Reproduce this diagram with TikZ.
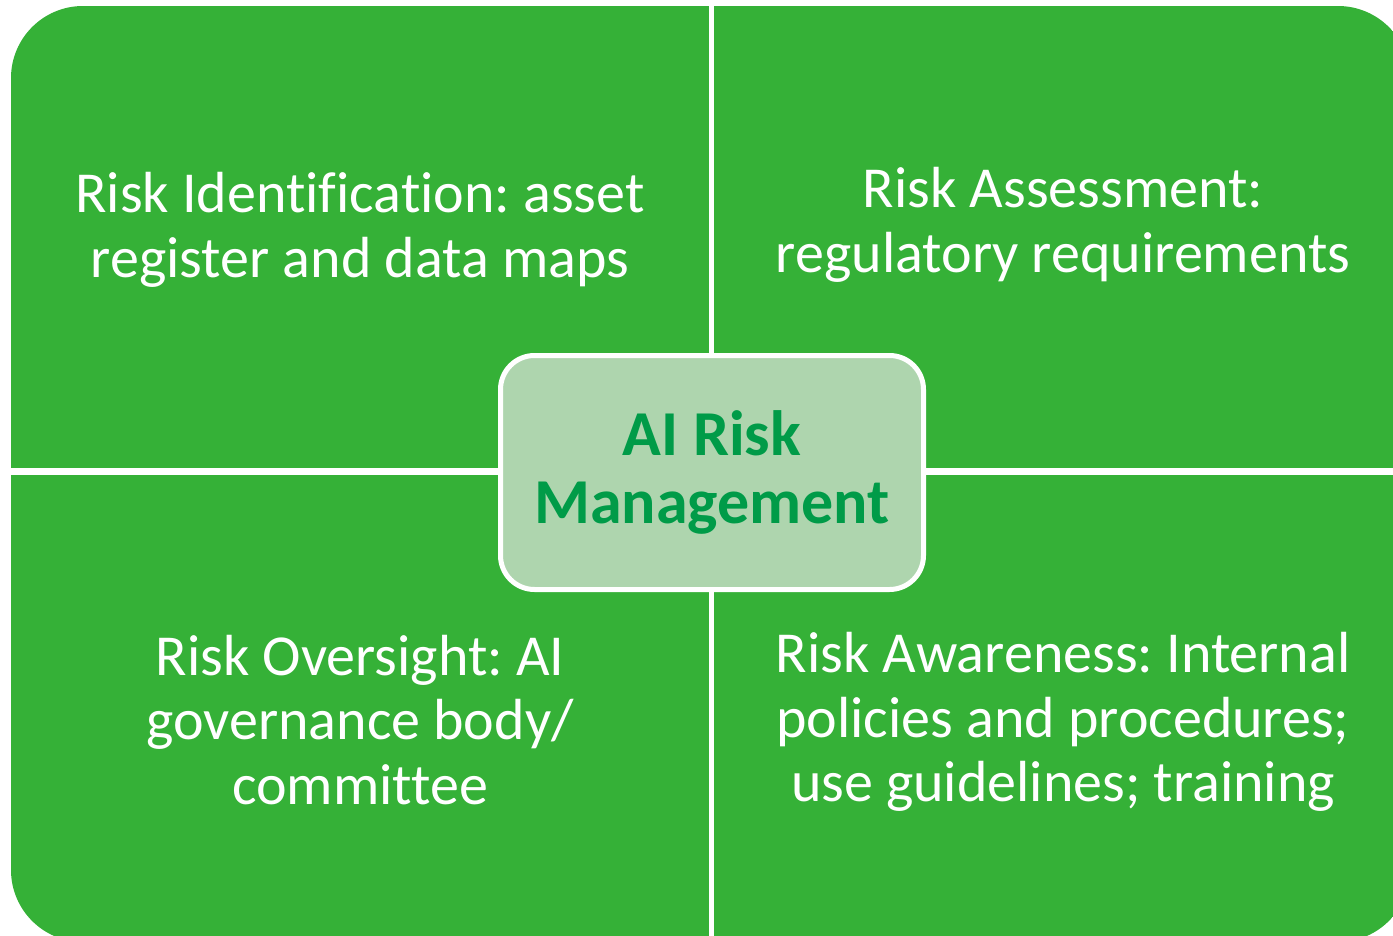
\documentclass[tikz,border=0pt]{standalone}
\usepackage{fontspec}
\setmainfont{Carlito}[Ligatures=NoCommon]
\frenchspacing
\definecolor{quadgreen}{HTML}{35B137}
\definecolor{corefill}{HTML}{AED5AE}
\definecolor{coretext}{HTML}{009B48}
\begin{document}
\begin{tikzpicture}[x=1pt,y=-1pt,
  quadtext/.style={text=white, align=center, font=\fontsize{58}{64.5}\selectfont, inner sep=0pt},
  corebox/.style={draw=white, line width=5pt, fill=corefill, rounded corners=34pt,
    minimum width=423pt, minimum height=234pt, inner sep=0pt,
    text=coretext, align=center, font=\fontsize{64}{68}\bfseries\selectfont}]
\useasboundingbox (0,0) rectangle (1393,936);
\fill[white] (0,0) rectangle (1393,936);
% four quadrants inside one rounded outline
\begin{scope}
  \clip[rounded corners=72pt] (11,6) rectangle (1410,942);
  \fill[quadgreen] (11,6) rectangle (709,468);
  \fill[quadgreen] (714,6) rectangle (1410,468);
  \fill[quadgreen] (11,475) rectangle (709,942);
  \fill[quadgreen] (714,475) rectangle (1410,942);
\end{scope}
\node[quadtext] (ident) at (360,230) {Risk Identification: asset\\register and data maps};
\node[quadtext] (assess) at (1063,225) {Risk Assessment:\\regulatory requirements};
\node[quadtext] (oversight) at (360,720) {Risk Oversight: AI\\governance body/\\committee};
\node[quadtext] (aware) at (1063,722) {Risk Awareness: Internal\\policies and procedures;\\use guidelines; training};
\node[corebox] (core) at (712,472.5) {AI Risk\\Management};
\end{tikzpicture}
\end{document}
